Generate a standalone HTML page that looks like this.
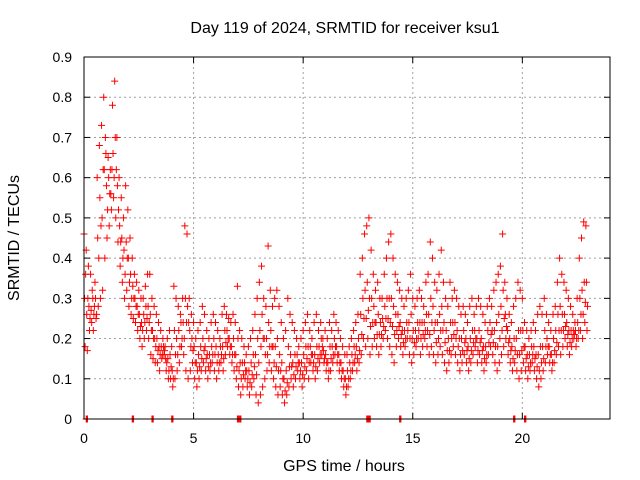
<!DOCTYPE html>
<html><head><meta charset="utf-8">
<style>
body{margin:0;background:#fff;}
svg{display:block;font-family:"Liberation Sans",sans-serif;}
</style></head>
<body>
<svg id="chart" width="640" height="480">
<text x="345" y="33" text-anchor="middle" font-size="16">Day 119 of 2024, SRMTID for receiver ksu1</text>
<text x="344" y="471" text-anchor="middle" font-size="16">GPS time / hours</text>
<text transform="translate(19,238) rotate(-90)" text-anchor="middle" font-size="16">SRMTID / TECUs</text>
<g id="grid"></g><g id="ticks"></g><g id="marks"></g>
<rect x="84" y="57" width="526" height="362" fill="none" stroke="#000" stroke-width="1"/>
</svg>
<script>
const xTicks=[0,5,10,15,20];
const yTicks=[0,0.1,0.2,0.3,0.4,0.5,0.6,0.7,0.8,0.9];
const yTickLabels=["0","0.1","0.2","0.3","0.4","0.5","0.6","0.7","0.8","0.9"];
const upper=[.46,.42,.38,.36,.30,.34,.60,.68,.73,.80,.66,.65,.62,.78,.84,.70,.60,.55,.50,.58,.52,.45,.40,.36,.34,.32,.30,.30,.33,.36,.36,.30,.28,.26,.24,.22,.20,.18,.20,.22,.18,.33,.30,.28,.26,.30,.48,.46,.30,.26,.24,.20,.22,.24,.28,.26,.22,.20,.24,.26,.24,.22,.20,.26,.28,.26,.25,.24,.26,.24,.33,.22,.20,.18,.16,.18,.20,.22,.26,.30,.34,.38,.30,.28,.43,.32,.28,.30,.32,.28,.24,.20,.22,.30,.26,.24,.22,.20,.18,.20,.22,.24,.26,.22,.20,.24,.26,.22,.24,.20,.22,.20,.24,.22,.26,.24,.22,.20,.18,.16,.16,.18,.20,.22,.24,.26,.36,.40,.46,.48,.50,.42,.36,.32,.34,.30,.30,.36,.40,.44,.46,.40,.36,.34,.32,.30,.28,.30,.32,.36,.30,.28,.30,.32,.30,.28,.34,.36,.44,.40,.34,.32,.36,.42,.34,.30,.28,.34,.30,.32,.30,.28,.26,.28,.26,.24,.28,.30,.26,.28,.30,.28,.26,.24,.28,.30,.28,.32,.34,.36,.38,.46,.34,.30,.26,.24,.28,.30,.34,.32,.30,.24,.22,.20,.22,.24,.22,.26,.28,.26,.30,.26,.24,.22,.26,.28,.34,.40,.36,.34,.32,.30,.28,.26,.24,.30,.40,.45,.49,.48];
const midA=[.30,.26,.28,.27,.22,.30,.45,.55,.50,.62,.58,.60,.56,.66,.70,.58,.48,.45,.42,.44,.40,.36,.33,.30,.28,.26,.24,.26,.28,.28,.26,.22,.20,.20,.18,.18,.18,.15,.15,.16,.12,.22,.20,.22,.24,.24,.30,.28,.22,.20,.18,.14,.16,.18,.20,.18,.16,.16,.18,.20,.18,.16,.18,.18,.22,.22,.20,.18,.20,.16,.20,.14,.14,.14,.12,.12,.14,.16,.16,.20,.22,.26,.20,.20,.24,.22,.18,.18,.20,.16,.14,.10,.12,.18,.16,.14,.16,.16,.14,.14,.16,.18,.18,.18,.16,.16,.18,.18,.20,.17,.16,.14,.18,.18,.20,.18,.16,.14,.12,.10,.12,.14,.16,.18,.18,.20,.26,.30,.32,.34,.30,.30,.28,.24,.26,.24,.25,.28,.30,.30,.30,.28,.26,.26,.24,.22,.22,.24,.24,.26,.22,.22,.24,.24,.24,.24,.26,.26,.30,.28,.24,.24,.26,.28,.24,.22,.20,.24,.24,.24,.22,.20,.20,.22,.20,.18,.20,.22,.22,.20,.22,.20,.18,.18,.22,.24,.22,.22,.24,.26,.28,.32,.26,.22,.20,.18,.20,.20,.22,.22,.22,.18,.16,.16,.18,.18,.16,.16,.18,.18,.22,.20,.18,.16,.20,.22,.26,.28,.26,.26,.24,.22,.22,.22,.22,.24,.30,.32,.34,.34];
const midB=[.36,.30,.25,.32,.28,.26,.40,.48,.62,.70,.52,.56,.62,.60,.62,.52,.44,.40,.36,.40,.34,.30,.30,.28,.26,.23,.22,.24,.25,.24,.22,.20,.18,.17,.16,.16,.17,.14,.12,.13,.10,.16,.16,.18,.20,.20,.24,.24,.18,.17,.14,.12,.13,.15,.17,.15,.13,.14,.16,.16,.14,.14,.16,.15,.19,.20,.18,.16,.16,.13,.12,.10,.11,.12,.10,.09,.11,.13,.11,.14,.18,.20,.16,.16,.18,.18,.14,.13,.12,.12,.10,.07,.09,.13,.13,.11,.13,.14,.12,.11,.13,.15,.14,.16,.14,.13,.15,.16,.18,.15,.14,.12,.15,.16,.18,.16,.14,.12,.10,.08,.10,.12,.14,.16,.15,.17,.21,.25,.25,.27,.23,.24,.24,.21,.21,.21,.23,.25,.25,.24,.23,.21,.22,.23,.21,.19,.20,.22,.20,.20,.19,.20,.22,.20,.21,.22,.22,.21,.24,.22,.19,.20,.22,.22,.19,.17,.17,.20,.21,.20,.18,.16,.17,.19,.17,.15,.17,.19,.20,.17,.19,.17,.15,.16,.19,.21,.19,.18,.18,.20,.22,.25,.23,.19,.17,.15,.17,.16,.16,.17,.18,.15,.13,.14,.16,.15,.13,.12,.14,.15,.18,.18,.16,.14,.17,.19,.22,.22,.22,.23,.21,.19,.20,.21,.20,.22,.26,.26,.29,.28];
const lower=[.18,.17,.22,.24,.26,.25,.28,.30,.32,.40,.45,.48,.52,.55,.50,.44,.38,.34,.30,.32,.28,.26,.25,.24,.22,.20,.18,.20,.22,.20,.16,.15,.14,.14,.12,.15,.16,.12,.10,.10,.08,.10,.12,.14,.18,.16,.12,.10,.12,.14,.10,.08,.10,.12,.14,.12,.10,.12,.14,.12,.10,.12,.14,.12,.16,.18,.16,.14,.12,.10,.08,.06,.08,.10,.08,.06,.08,.10,.06,.04,.06,.08,.10,.12,.14,.12,.10,.08,.06,.08,.06,.04,.06,.08,.10,.08,.10,.12,.10,.08,.10,.12,.10,.14,.12,.10,.12,.14,.16,.14,.12,.10,.12,.14,.16,.14,.12,.10,.08,.06,.08,.10,.12,.14,.12,.14,.16,.20,.18,.20,.16,.18,.20,.18,.16,.18,.20,.22,.20,.18,.16,.14,.18,.20,.18,.16,.18,.20,.16,.14,.16,.18,.20,.16,.18,.20,.18,.16,.18,.16,.14,.16,.18,.16,.14,.12,.14,.16,.18,.16,.14,.12,.14,.16,.14,.12,.14,.16,.18,.14,.16,.14,.12,.14,.16,.18,.16,.14,.12,.14,.16,.18,.20,.16,.14,.12,.14,.12,.10,.12,.14,.12,.10,.12,.14,.12,.10,.08,.10,.12,.14,.16,.14,.12,.14,.16,.18,.16,.18,.20,.18,.16,.18,.20,.18,.20,.22,.20,.24,.22];
const zeroTimes=[0.1,2.2,3.1,4.0,7.0,7.1,12.9,13.0,14.4,19.6,20.1];
const X0=84,X1=610,Y0=419,Y1=57;
function xs(t){return X0+(t/24)*(X1-X0);}
function ys(v){return Y0-(v/0.9)*(Y0-Y1);}
const NS="http://www.w3.org/2000/svg";
const grid=document.getElementById('grid'),ticks=document.getElementById('ticks'),marks=document.getElementById('marks');
function mk(tag,attrs,parent){const e=document.createElementNS(NS,tag);for(const k in attrs)e.setAttribute(k,attrs[k]);parent.appendChild(e);return e;}
yTicks.forEach((v,i)=>{
 const y=ys(v);
 if(i>0&&i<yTicks.length-1){const g=mk('line',{x1:X0,x2:X1,y1:y,y2:y,stroke:'#a0a0a0','stroke-dasharray':'2,3'},grid);
 
 }
 const t=mk('text',{x:72,y:y+5,'text-anchor':'end','font-size':'14'},ticks);t.textContent=yTickLabels[i];
 
 
 mk('line',{x1:X0,x2:X0+6,y1:y,y2:y,stroke:'#000'},ticks);
 mk('line',{x1:X1,x2:X1-6,y1:y,y2:y,stroke:'#000'},ticks);
});
xTicks.forEach((v)=>{
 const x=xs(v);
 if(v>0){const g=mk('line',{x1:x,x2:x,y1:Y1,y2:Y0,stroke:'#a0a0a0','stroke-dasharray':'2,3'},grid);
 
 }
 const t=mk('text',{x:x,y:443,'text-anchor':'middle','font-size':'14'},ticks);t.textContent=String(v);
 
 
 mk('line',{x1:x,x2:x,y1:Y0,y2:Y0-6,stroke:'#000'},ticks);
 mk('line',{x1:x,x2:x,y1:Y1,y2:Y1+6,stroke:'#000'},ticks);
});
function plus(t,v,color){
 const x=xs(t),y=ys(v);
 const p=mk('path',{d:`M${x-3.5},${y}h7M${x},${y-3.5}v7`,stroke:color,'stroke-width':1,fill:'none'},marks);
 
 
}
upper.forEach((v,i)=>plus(i/10,v,'#ff0000'));
midA.forEach((v,i)=>plus(i/10+0.025,v,'#ff0000'));
lower.forEach((v,i)=>plus(i/10+0.05,v,'#ff0000'));
midB.forEach((v,i)=>plus(i/10+0.075,v,'#ff0000'));
zeroTimes.forEach(t=>{plus(t,0,'#ff0000');plus(t+0.03,0,'#ff0000');plus(t+0.06,0,'#ff0000');});
</script>
</body></html>
